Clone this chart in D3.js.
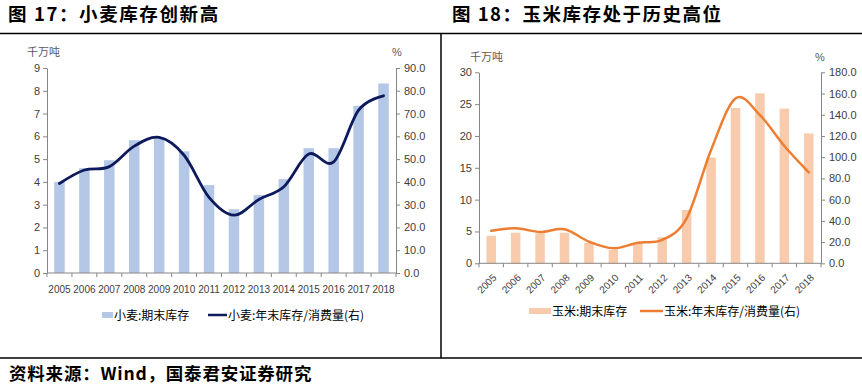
<!DOCTYPE html>
<html><head><meta charset="utf-8">
<script src="https://cdn.jsdelivr.net/npm/d3@7/dist/d3.min.js"></script>
<style>
body{margin:0;background:#fff;}
svg{display:block;}
</style></head>
<body>
<svg id="c" width="862" height="387"></svg>
<script>
const years = ["2005","2006","2007","2008","2009","2010","2011","2012","2013","2014","2015","2016","2017","2018"];
const wheatStock = [4.0,4.6,4.95,5.83,5.95,5.34,3.86,2.8,3.42,4.12,5.48,5.48,7.34,8.32];
const wheatRatio = [39.3,45.2,46.7,55.7,59.5,51.7,33.2,25.4,32.3,37.9,52.2,48.8,71.5,77.8];
const cornStock = [4.33,4.8,4.7,4.8,3.24,2.1,3.1,4.1,8.37,16.6,24.4,26.7,24.3,20.4];
const cornRatio = [30.7,33,29.5,32,20.4,14.1,19.4,22,42.4,106.8,155.4,139.7,110.5,85.7];
const wheatLeftTicks = [0,1,2,3,4,5,6,7,8,9];
const wheatRightTicks = [0,10,20,30,40,50,60,70,80,90];
const cornLeftTicks = [0,5,10,15,20,25,30];
const cornRightTicks = [0,20,40,60,80,100,120,140,160,180];

const svg = d3.select("#c");
const cjk = "'Noto Sans CJK SC', 'Noto Sans', sans-serif";
const num = "'Liberation Sans', Arial, sans-serif";

// frame lines
svg.append("line").attr("x1",0).attr("x2",862).attr("y1",33.5).attr("y2",33.5).attr("stroke","#000").attr("stroke-width",1.5);
svg.append("line").attr("x1",0).attr("x2",862).attr("y1",358).attr("y2",358).attr("stroke","#000").attr("stroke-width",1.5);
svg.append("line").attr("x1",441).attr("x2",441).attr("y1",33.5).attr("y2",358).attr("stroke","#000").attr("stroke-width",1.5);

// titles
svg.append("text").attr("x",8).attr("y",21).attr("font-family",cjk).attr("font-weight","bold").attr("font-size",18.5).attr("letter-spacing",1.6).attr("fill","#000").text("图 17：小麦库存创新高");
svg.append("text").attr("x",452).attr("y",21).attr("font-family",cjk).attr("font-weight","bold").attr("font-size",18.5).attr("letter-spacing",1.5).attr("fill","#000").text("图 18：玉米库存处于历史高位");
svg.append("text").attr("x",9).attr("y",380).attr("font-family",cjk).attr("font-weight","bold").attr("font-size",17.5).attr("letter-spacing",0.8).attr("fill","#000").text("资料来源：Wind，国泰君安证券研究");

function chart(o){
  const g = svg.append("g");
  const x = d3.scaleBand().domain(years).range([o.x0,o.x1]);
  const yL = d3.scaleLinear().domain([0,o.lMax]).range([o.y0,o.y1]);
  const yR = d3.scaleLinear().domain([0,o.rMax]).range([o.y0,o.y1]);
  const axisColor = "#868686";
  // bars
  g.selectAll("rect.bar").data(o.bars).enter().append("rect")
    .attr("x",(d,i)=>x(years[i])+x.bandwidth()/2-o.bw/2)
    .attr("width",o.bw)
    .attr("y",d=>yL(d)).attr("height",d=>o.y0-yL(d))
    .attr("fill",o.barColor);
  // axes
  const aL = g.append("g").attr("transform",`translate(${o.x0},0)`)
    .call(d3.axisLeft(yL).tickValues(o.lTicks).tickSize(4).tickSizeOuter(0).tickFormat(d3.format("d")));
  const aR = g.append("g").attr("transform",`translate(${o.x1},0)`)
    .call(d3.axisRight(yR).tickValues(o.rTicks).tickSize(4).tickSizeOuter(0).tickFormat(d3.format(".1f")));
  [aL,aR].forEach(a=>{
    a.select(".domain").attr("stroke",axisColor);
    a.selectAll(".tick line").attr("stroke",axisColor);
    a.selectAll(".tick text").attr("fill","#404040").attr("font-family",num).attr("font-size",11);
  });
  aL.selectAll(".tick text").attr("x",-7);
  aR.selectAll(".tick text").attr("x",8);
  // x axis
  g.append("line").attr("x1",o.x0).attr("x2",o.x1).attr("y1",o.y0).attr("y2",o.y0).attr("stroke",axisColor);
  const bounds = years.map(d=>x(d)).concat([o.x1]);
  g.selectAll("line.xt").data(bounds).enter().append("line")
    .attr("x1",d=>d).attr("x2",d=>d).attr("y1",o.y0).attr("y2",o.y0+4).attr("stroke",axisColor);
  if(!o.rotate){
    g.selectAll("text.xl").data(years).enter().append("text")
      .attr("x",d=>x(d)+x.bandwidth()/2).attr("y",o.y0+20)
      .attr("text-anchor","middle").attr("font-family",num).attr("font-size",10).attr("fill","#404040").text(d=>d);
  } else {
    g.selectAll("text.xl").data(years).enter().append("text")
      .attr("transform",d=>`translate(${x(d)+x.bandwidth()/2+6},${o.y0+15}) rotate(-45)`)
      .attr("text-anchor","end").attr("font-family",num).attr("font-size",10).attr("fill","#404040").text(d=>d);
  }
  // line
  const line = d3.line().x((d,i)=>x(years[i])+x.bandwidth()/2).y(d=>yR(d)).curve(d3.curveCardinal.tension(0));
  g.append("path").attr("d",line(o.line)).attr("fill","none").attr("stroke",o.lineColor).attr("stroke-width",o.lw).attr("stroke-linecap","round");
  // unit labels
  g.append("text").attr("x",o.uLx).attr("y",o.uLy).attr("font-family",cjk).attr("font-size",11).attr("fill","#595959").text("千万吨");
  g.append("text").attr("x",o.uRx).attr("y",o.uLy).attr("text-anchor","middle").attr("font-family",num).attr("font-size",11).attr("fill","#595959").text("%");
  // legend
  g.append("rect").attr("x",o.lg1).attr("y",o.lgy-3).attr("width",o.sw1).attr("height",6).attr("fill",o.barColor);
  g.append("text").attr("x",o.lg1+o.sw1+1).attr("y",o.lgy+4.5).attr("font-family",cjk).attr("font-size",12).attr("fill","#000").text(o.lgt1);
  g.append("line").attr("x1",o.lg2).attr("x2",o.lg2+o.sw2).attr("y1",o.lgy).attr("y2",o.lgy).attr("stroke",o.lineColor).attr("stroke-width",2.5);
  g.append("text").attr("x",o.lg2+o.sw2+1).attr("y",o.lgy+4.5).attr("font-family",cjk).attr("font-size",12).attr("fill","#000").text(o.lgt2);
}

chart({x0:47,x1:396,y0:273,y1:68,lMax:9,rMax:90,bars:wheatStock,line:wheatRatio,lTicks:wheatLeftTicks,rTicks:wheatRightTicks,
  bw:10.5,barColor:"#b4c7e7",lineColor:"#0d1a5c",lw:2.8,rotate:false,uLx:27,uLy:56,uRx:397,
  lg1:102,sw1:11,lgt1:"小麦:期末库存",lg2:208,sw2:19,lgt2:"小麦:年末库存/消费量(右)",lgy:315});
chart({x0:479,x1:821,y0:263.3,y1:72.3,lMax:30,rMax:180,bars:cornStock,line:cornRatio,lTicks:cornLeftTicks,rTicks:cornRightTicks,
  bw:9.5,barColor:"#f8cbad",lineColor:"#ed7d31",lw:2.5,rotate:true,uLx:470,uLy:61,uRx:820,
  lg1:529,sw1:22,lgt1:"玉米:期末库存",lg2:640,sw2:23,lgt2:"玉米:年末库存/消费量(右)",lgy:311});
</script>
</body></html>
